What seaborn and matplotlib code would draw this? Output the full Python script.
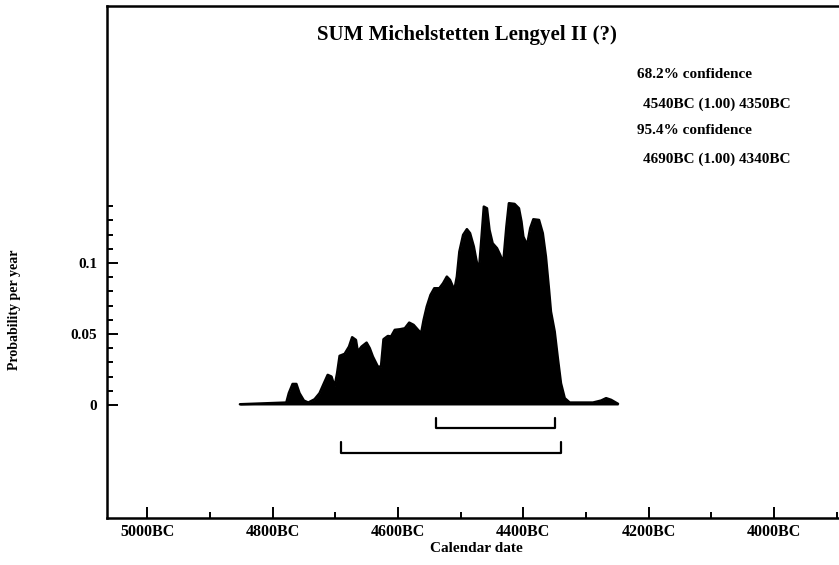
import numpy as np
import pandas as pd
import matplotlib.pyplot as plt
from matplotlib.ticker import FixedLocator, FuncFormatter
import seaborn as sns

# summed probability (years BC, probability per year)
years = [4852, 4778, 4774, 4768, 4762, 4757, 4750, 4743, 4733, 4725,
         4718, 4712, 4706, 4701, 4697, 4693, 4685, 4678, 4673, 4667,
         4664, 4658, 4650, 4645, 4640, 4632, 4627, 4623, 4616, 4611,
         4605, 4597, 4589, 4582, 4575, 4568, 4563, 4559, 4554, 4548,
         4542, 4534, 4528, 4522, 4517, 4510, 4506, 4502, 4496, 4490,
         4485, 4479, 4475, 4471, 4467, 4463, 4458, 4454, 4449, 4442,
         4437, 4432, 4427, 4423, 4414, 4407, 4403, 4400, 4394, 4389,
         4384, 4375, 4369, 4364, 4359, 4356, 4350, 4345, 4340, 4334,
         4326, 4289, 4276, 4268, 4260, 4249]
prob = [0.0005, 0.0017, 0.0083, 0.0148, 0.0148, 0.0083, 0.0031, 0.0017, 0.0040, 0.0083,
        0.0153, 0.0212, 0.0200, 0.0130, 0.0224, 0.0346, 0.0360, 0.0411, 0.0477, 0.0458,
        0.0376, 0.0411, 0.0439, 0.0400, 0.0341, 0.0270, 0.0270, 0.0463, 0.0486, 0.0482,
        0.0529, 0.0533, 0.0540, 0.0580, 0.0564, 0.0529, 0.0505, 0.0599, 0.0693, 0.0775,
        0.0822, 0.0822, 0.0857, 0.0904, 0.0881, 0.0810, 0.0904, 0.1080, 0.1198, 0.1238,
        0.1210, 0.1116, 0.1022, 0.0939, 0.1162, 0.1397, 0.1385, 0.1233, 0.1139, 0.1104,
        0.1057, 0.1003, 0.1256, 0.1421, 0.1416, 0.1385, 0.1292, 0.1186, 0.1127, 0.1245,
        0.1308, 0.1303, 0.1210, 0.1045, 0.0810, 0.0658, 0.0517, 0.0329, 0.0153, 0.0048,
        0.0017, 0.0017, 0.0031, 0.0048, 0.0036, 0.0008]

ci68 = [4540, 4350]
ci95 = [4690, 4340]
xmajor = [5000, 4800, 4600, 4400, 4200, 4000]
xminor = [4900, 4700, 4500, 4300, 4100, 3900]
ymajor = [0, 0.05, 0.1]
yminor = [0.01, 0.02, 0.03, 0.04, 0.06, 0.07, 0.08, 0.09, 0.11, 0.12, 0.13, 0.14]

sns.set_style('ticks')
plt.rcParams['font.family'] = ['Liberation Serif', 'DejaVu Serif']
plt.rcParams['font.weight'] = 'bold'
plt.rcParams['text.color'] = 'black'
plt.rcParams['xtick.color'] = 'black'
plt.rcParams['ytick.color'] = 'black'
plt.rcParams['axes.labelcolor'] = 'black'

W, H = 839, 565
fig = plt.figure(figsize=(W/100, H/100), dpi=100)
ax = fig.add_axes([107/W, 47/H, (850-107)/W, 512/H])

df = pd.DataFrame({'year': years, 'prob': prob})
ax.fill_between(df['year'], df['prob'], color='black', lw=0)
sns.lineplot(data=df, x='year', y='prob', color='black', lw=1.8, ax=ax)

# confidence brackets
for (a, b), y, top in [(ci68, -0.0162, -0.0092), (ci95, -0.0338, -0.026)]:
    ax.plot([a, a, b, b], [top, y, y, top], color='black', lw=1.6)

ax.set_xlim(5064, 3879)
ax.set_ylim(-0.0796, 0.281)

ax.xaxis.set_major_locator(FixedLocator(xmajor))
ax.xaxis.set_minor_locator(FixedLocator(xminor))
ax.xaxis.set_major_formatter(FuncFormatter(lambda v, p: f'{int(v)}BC'))
ax.yaxis.set_major_locator(FixedLocator(ymajor))
ax.yaxis.set_minor_locator(FixedLocator(yminor))
ax.yaxis.set_major_formatter(FuncFormatter(lambda v, p: f'{v:g}'))

ax.tick_params(which='both', direction='in', color='black', labelcolor='black', width=1.4)
ax.tick_params(which='major', length=8)
ax.tick_params(which='minor', length=4)
ax.tick_params(axis='x', labelsize=11.5, pad=4)
ax.tick_params(axis='y', labelsize=11, pad=7)
for t in ax.get_xticklabels() + ax.get_yticklabels():
    t.set_fontweight('bold')

ax.spines['right'].set_visible(False)
for s in ['left', 'top', 'bottom']:
    ax.spines[s].set_linewidth(1.8)
    ax.spines[s].set_color('black')
ax.set_xlabel('')
ax.set_ylabel('')

fig.text(467/W, 1 - 35/H, 'SUM Michelstetten Lengyel II (?)', ha='center', va='center',
         fontsize=15, fontweight='bold', color='black')
fig.text(476/W, 1 - 548/H, 'Calendar date', ha='center', va='center',
         fontsize=11, fontweight='bold', color='black')
fig.text(15/W, 1 - 310/H, 'Probability per year', ha='center', va='center',
         rotation=90, fontsize=10, fontweight='bold', color='black')

info = [('68.2% confidence', 637, 75), ('4540BC (1.00) 4350BC', 643, 104),
        ('95.4% confidence', 637, 131), ('4690BC (1.00) 4340BC', 643, 159)]
for txt, x, y in info:
    fig.text(x/W, 1 - y/H, txt, ha='left', va='center', fontsize=11,
             fontweight='bold', color='black')

fig.savefig('out.png', dpi=100)
